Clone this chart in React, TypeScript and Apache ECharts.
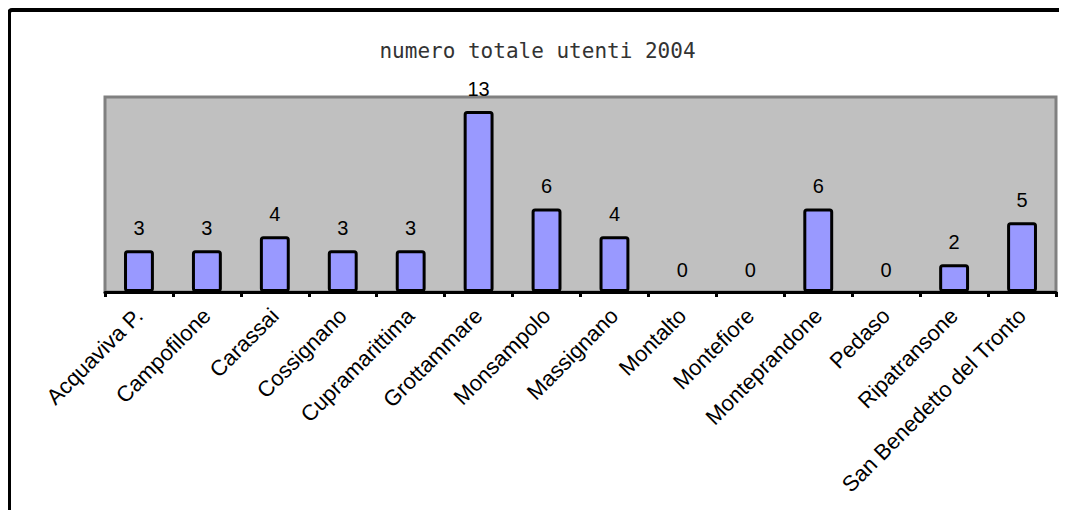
import React, { useEffect, useRef } from "react";
import * as echarts from "echarts";

const categories = [
  "Acquaviva P.",
  "Campofilone",
  "Carassai",
  "Cossignano",
  "Cupramarittima",
  "Grottammare",
  "Monsampolo",
  "Massignano",
  "Montalto",
  "Montefiore",
  "Monteprandone",
  "Pedaso",
  "Ripatransone",
  "San Benedetto del Tronto",
];
const values = [3, 3, 4, 3, 3, 13, 6, 4, 0, 0, 6, 0, 2, 5];
const title = "numero totale utenti 2004";

export default function App() {
  const ref = useRef<HTMLDivElement>(null);
  useEffect(() => {
    document.body.style.overflow = "hidden";
    const chart = echarts.init(ref.current!, null, { renderer: "svg" });
    chart.setOption({
      animation: false,
      title: {
        text: title,
        left: "center",
        top: 27,
        textStyle: {
          fontFamily: "DejaVu Sans Mono, monospace",
          fontSize: 21,
          fontWeight: "normal",
          color: "#333",
        },
      },
      graphic: [
        {
          type: "rect",
          shape: { x: 1, y: 2, width: 1100, height: 600, r: 3 },
          style: { fill: "none", stroke: "#000", lineWidth: 4 },
          silent: true,
        },
      ],
      grid: {
        left: 97,
        top: 89,
        right: 11,
        bottom: 218,
        show: true,
        backgroundColor: "#C0C0C0",
        borderColor: "#808080",
        borderWidth: 3,
      },
      xAxis: {
        type: "category",
        data: categories,
        axisLine: { lineStyle: { color: "#000", width: 3 } },
        axisTick: { show: true, length: 5, lineStyle: { color: "#000", width: 3 } },
        axisLabel: {
          rotate: 45,
          interval: 0,
          margin: 20,
          fontFamily: "Liberation Sans, Arial, sans-serif",
          fontSize: 22,
          color: "#000",
        },
      },
      yAxis: {
        type: "value",
        min: 0,
        max: 14,
        show: false,
        splitLine: { show: false },
      },
      series: [
        {
          type: "bar",
          data: values.map((v) => ({
            value: v,
            itemStyle: v === 0 ? { borderWidth: 0 } : undefined,
          })),
          barWidth: "44%",
          itemStyle: {
            color: "#9999FF",
            borderColor: "#000",
            borderWidth: 3,
            borderRadius: 2,
          },
          label: {
            show: true,
            position: "top",
            distance: 12,
            fontFamily: "Liberation Sans, Arial, sans-serif",
            fontSize: 20,
            color: "#000",
          },
        },
      ],
    });
    return () => chart.dispose();
  }, []);
  return <div ref={ref} style={{ width: 1059, height: 502 }} />;
}
